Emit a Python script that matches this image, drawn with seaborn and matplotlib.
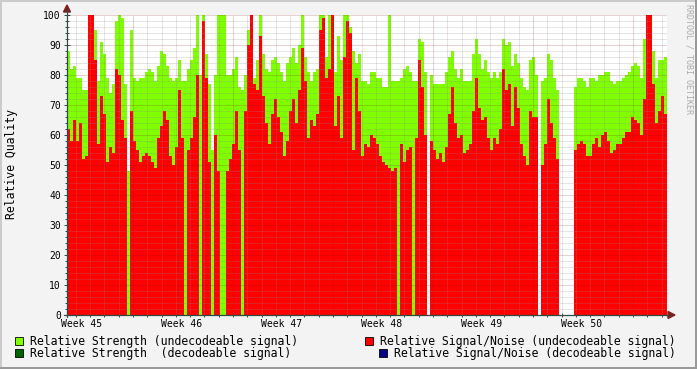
import numpy as np
import pandas as pd
import matplotlib
matplotlib.use("Agg")
import matplotlib.pyplot as plt
from matplotlib.patches import Rectangle, Polygon
from matplotlib.lines import Line2D
import seaborn as sns

# ---------------- data (one value per ~5 h, 6 weeks) ----------------
snr_undecodeable = [
    62, 58, 65, 58, 64, 52, 53, 100, 100, 85, 57, 73, 67, 51, 56, 54, 82, 80, 65, 59,
    0, 68, 58, 55, 51, 53, 54, 53, 51, 49, 59, 63, 68, 65,
    53, 50, 56, 75, 59, 0, 55, 59, 66, 80, 0, 98, 79, 51, 0, 60, 48, 0, 0, 48,
    52, 57, 68, 55, 0, 68, 90, 100, 77, 75, 93, 73, 64, 57, 67, 72,
    66, 61, 53, 58, 68, 72, 64, 75, 89, 78, 59, 65, 63, 67, 95, 99, 79, 82, 100, 63,
    73, 59, 86, 98, 94, 55, 79, 68, 53, 57, 56, 60, 59, 57,
    53, 51, 50, 49, 48, 49, 0, 57, 51, 55, 56, 0, 59, 85, 76, 60, 0, 58, 55, 52,
    54, 51, 56, 67, 76, 64, 59, 60, 54, 55, 57, 68, 79, 69, 65, 66,
    59, 55, 59, 57, 62, 82, 75, 77, 63, 76, 69, 57, 53, 50, 68, 66, 66, 0, 50, 57,
    72, 64, 59, 52, 0, 0, 0, 0, 0, 55, 57, 58, 57, 53, 53,
    57, 59, 56, 60, 61, 58, 54, 55, 57, 57, 59, 61, 61, 66, 65, 64, 60, 72, 100, 100,
    77, 64, 68, 73, 67,
]
strength_undecodeable = [
    88, 82, 83, 79, 79, 75, 75, 100, 100, 95, 78, 91, 87, 79, 74, 77, 98, 100, 99, 77,
    48, 95, 79, 78, 79, 79, 81, 82, 81, 78, 83, 88, 87, 83,
    79, 78, 79, 85, 78, 78, 82, 85, 89, 100, 80, 100, 87, 77, 55, 80, 100, 100, 100, 80,
    80, 82, 86, 76, 75, 80, 95, 100, 79, 85, 100, 87, 82, 81, 85, 86,
    84, 81, 78, 84, 86, 89, 84, 90, 100, 86, 81, 78, 81, 82, 100, 100, 86, 100, 100, 81,
    93, 85, 100, 100, 96, 88, 84, 87, 78, 78, 77, 81, 81, 79,
    79, 76, 76, 100, 78, 78, 78, 79, 82, 83, 81, 78, 78, 92, 91, 81, 0, 80, 77, 77,
    77, 77, 81, 86, 88, 82, 79, 82, 78, 78, 78, 87, 92, 87, 82, 85,
    81, 79, 81, 79, 81, 92, 90, 91, 83, 87, 84, 79, 76, 75, 85, 86, 80, 0, 78, 79,
    87, 85, 79, 75, 0, 0, 0, 0, 0, 76, 79, 79, 78, 76, 79,
    79, 78, 80, 80, 81, 81, 78, 77, 78, 78, 79, 80, 81, 83, 84, 83, 79, 92, 100, 100,
    88, 79, 85, 85, 86,
]
n = len(snr_undecodeable)
strength_decodeable = [0] * n
snr_decodeable = [0] * n

week_labels = ["Week 45", "Week 46", "Week 47", "Week 48", "Week 49", "Week 50"]
legend_labels = [
    "Relative Strength (undecodeable signal)",
    "Relative Strength  (decodeable signal)",
    "Relative Signal/Noise (undecodeable signal)",
    "Relative Signal/Noise (decodeable signal)",
]
y_label = "Relative Quality"
watermark = "RRDTOOL / TOBI OETIKER"

C_STR_U = "#7FFF00"
C_STR_D = "#006400"
C_SNR_U = "#FF0000"
C_SNR_D = "#00008B"

# ---------------- figure ----------------
sns.set_theme(style="white")
plt.rcParams['font.family'] = ['DejaVu Sans Mono', 'DejaVu Sans']

W, H = 697, 369
fig = plt.figure(figsize=(W / 100, H / 100), dpi=100, facecolor="#F3F3F3")

def fx(px):
    return px / W

def fy(py):
    return 1 - py / H

X0, X1, Y0, Y1 = 67, 667, 15, 315
ax = fig.add_axes([fx(X0), fy(Y1), (X1 - X0) / W, (Y1 - Y0) / H])
ax.set_facecolor("white")

df = pd.DataFrame({
    "t": np.arange(n),
    "strength_u": strength_undecodeable,
    "snr_u": snr_undecodeable,
    "strength_d": strength_decodeable,
    "snr_d": snr_decodeable,
})

common = dict(data=df, x="t", native_scale=True, width=1, saturation=1,
              linewidth=0, errorbar=None, ax=ax)
sns.barplot(y="strength_u", color=C_STR_U, **common)
sns.barplot(y="snr_u", color=C_SNR_U, **common)
sns.barplot(y="strength_d", color=C_STR_D, **common)
sns.barplot(y="snr_d", color=C_SNR_D, **common)
for p in ax.patches:
    p.set_antialiased(False)
    p.set_zorder(2)

ax.set_xlim(-0.5, n - 0.5)
ax.set_ylim(0, 100)
ax.set_xlabel("")
ax.set_ylabel("")
for s in ax.spines.values():
    s.set_visible(False)

# grid
u_per_px = n / (X1 - X0)
def px2u(px):
    return (px - X0) * u_per_px - 0.5

week_px = 100.0
day_px = week_px / 7
major_u = [px2u(133 + week_px * k) for k in range(6)]
minor_u = [px2u(133 + day_px * k) for k in range(-4, 40) if X0 < 133 + day_px * k < X1]
dots = (0, (1, 1))
for v in range(2, 101, 2):
    if v % 10:
        ax.axhline(v, color="#8C8C8C", alpha=0.45, lw=0.72, ls=dots, zorder=3)
for u in minor_u:
    if min(abs(u - m) for m in major_u) > 0.5:
        ax.axvline(u, color="#8C8C8C", alpha=0.45, lw=0.72, ls=dots, zorder=3)
for v in range(10, 101, 10):
    ax.axhline(v, color="#821E1E", alpha=0.4, lw=0.72, ls=dots, zorder=3)
for u in major_u:
    ax.axvline(u, color="#821E1E", alpha=0.4, lw=0.72, ls=dots, zorder=3)

# ticks
ax.set_yticks(range(0, 101, 10))
ax.set_yticks(range(0, 101, 2), minor=True)
ax.tick_params(axis="y", which="both", direction="inout", length=4, width=0.7,
               color="#2C4D43", labelsize=7, pad=2.5, left=True, labelcolor="black")
ax.tick_params(axis="y", which="minor", length=3)
label_u = [px2u(82 + week_px * k) for k in range(6)]
ax.set_xticks(label_u, week_labels)
ax.set_xticks(minor_u, minor=True)
ax.tick_params(axis="x", which="major", length=0, labelsize=7, pad=3, labelcolor="black")
ax.tick_params(axis="x", which="minor", direction="inout", length=3, width=0.7,
               color="#2C4D43", bottom=True)

# axes lines and arrows
AX_C = "#2C4D43"
AR_C = "#7F1F1F"
fig.add_artist(Line2D([fx(X0), fx(X0)], [fy(Y1 + 2), fy(9)], color=AX_C, lw=0.9))
fig.add_artist(Line2D([fx(X0 - 3), fx(669)], [fy(Y1), fy(Y1)], color=AX_C, lw=0.9))
fig.add_artist(Polygon([[fx(63.5), fy(12)], [fx(70.5), fy(12)], [fx(67), fy(5)]],
                       closed=True, color=AR_C, transform=fig.transFigure))
fig.add_artist(Polygon([[fx(668), fy(311.5)], [fx(668), fy(318.5)], [fx(675), fy(315)]],
                       closed=True, color=AR_C, transform=fig.transFigure))

# frame shading
fig.add_artist(Rectangle((0, fy(2)), 1, 2 / H, color="#CBCBCB", transform=fig.transFigure, lw=0))
fig.add_artist(Rectangle((0, 0), 2 / W, 1, color="#CBCBCB", transform=fig.transFigure, lw=0))
fig.add_artist(Rectangle((0, 0), 1, 2 / H, color="#999999", transform=fig.transFigure, lw=0))
fig.add_artist(Rectangle((1 - 2 / W, 0), 2 / W, 1, color="#999999", transform=fig.transFigure, lw=0))

# texts
fig.text(fx(12), fy(164), y_label, rotation=90, ha="center", va="center",
         fontsize=8.3, color="black")
fig.text(fx(689), fy(4), watermark, rotation=270, ha="center", va="top",
         fontsize=6, color="#AAAAAA")

# legend
legend_items = [
    (15, 337, 30, legend_labels[0], C_STR_U),
    (15, 349, 30, legend_labels[1], C_STR_D),
    (365, 337, 380, legend_labels[2], C_SNR_U),
    (379, 349, 394, legend_labels[3], C_SNR_D),
]
for sx, sy, tx, lab, col in legend_items:
    fig.add_artist(Rectangle((fx(sx), fy(sy + 8)), 8 / W, 8 / H, facecolor=col,
                             edgecolor="black", lw=0.6, transform=fig.transFigure))
    fig.text(fx(tx), fy(sy + 4), lab, ha="left", va="center", fontsize=8.3, color="black")

fig.savefig("out.png", dpi=100, facecolor=fig.get_facecolor())
